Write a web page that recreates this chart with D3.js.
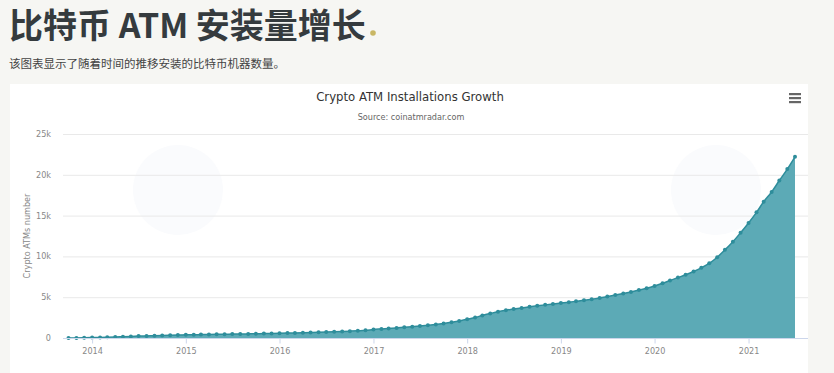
<!DOCTYPE html>
<meta charset="utf-8">
<script src="https://d3js.org/d3.v7.min.js"></script>
<style>
  body { margin: 0; background: #f6f6f3; font-family: "Noto Sans CJK SC", "Noto Sans", sans-serif; overflow: hidden; }
</style>
<body>
<div id="visual"></div>
<script>
// monthly cumulative installs, Oct 2013 .. Jul 2021
var startMonth = "2013-10";
var atmCounts = [
  5, 15, 30,
  50, 70, 95, 125, 160, 195, 230, 260, 290, 320, 345, 365,
  385, 400, 415, 430, 445, 460, 475, 490, 505, 520, 540, 560,
  580, 600, 620, 645, 670, 700, 730, 765, 800, 840, 885, 935,
  1050, 1110, 1170, 1240, 1310, 1390, 1470, 1560, 1660, 1780, 1920, 2080,
  2300, 2520, 2760, 3000, 3220, 3400, 3550, 3690, 3820, 3940, 4060, 4170,
  4280, 4390, 4500, 4620, 4760, 4910, 5080, 5260, 5450, 5650, 5870, 6100,
  6380, 6700, 7050, 7400, 7750, 8150, 8600, 9150, 9900, 10800, 11800, 12900,
  14100, 15400, 16700, 17900, 19300, 20700, 22200
];
var yTicks = [0, 5000, 10000, 15000, 20000, 25000];
var yTickLabels = ["0", "5k", "10k", "15k", "20k", "25k"];
var xTickYears = [2014, 2015, 2016, 2017, 2018, 2019, 2020, 2021];

var t0 = d3.timeParse("%Y-%m")(startMonth);
var data = atmCounts.map(function(v, i) { return { date: d3.timeMonth.offset(t0, i), value: v }; });

var W = 834, H = 373;
var svg = d3.select("#visual").append("svg").attr("width", W).attr("height", H);

// page heading
svg.append("text").attr("x", 9).attr("y", 38)
  .attr("font-size", 34).attr("font-weight", 700).attr("fill", "#353b3e")
  .attr("font-family", "'Noto Sans CJK SC', sans-serif")
  .text("比特币 ATM 安装量增长");
svg.append("circle").attr("cx", 373).attr("cy", 33).attr("r", 2.8).attr("fill", "#c9b764");
svg.append("text").attr("x", 9).attr("y", 68)
  .attr("font-size", 11.5).attr("fill", "#444")
  .attr("font-family", "'Noto Sans CJK SC', sans-serif")
  .text("该图表显示了随着时间的推移安装的比特币机器数量。");

// chart panel
svg.append("rect").attr("x", 10).attr("y", 84).attr("width", 798).attr("height", 300).attr("fill", "#fff");

// faint watermark shapes
[[178, 190], [716, 190]].forEach(function(c) {
  svg.append("circle").attr("cx", c[0]).attr("cy", c[1]).attr("r", 45).attr("fill", "#fafbfd");
});

var narrow = "'Liberation Sans Narrow', 'DejaVu Sans Condensed', sans-serif";
svg.append("text").attr("x", 410).attr("y", 101).attr("text-anchor", "middle")
  .attr("font-size", 13).attr("fill", "#333").attr("font-family", narrow)
  .text("Crypto ATM Installations Growth");
svg.append("text").attr("x", 411).attr("y", 120).attr("text-anchor", "middle")
  .attr("font-size", 9).attr("fill", "#666").attr("font-family", narrow)
  .text("Source: coinatmradar.com");

// menu icon
[93, 97, 101].forEach(function(y) {
  svg.append("rect").attr("x", 789).attr("y", y).attr("width", 12).attr("height", 2.2).attr("fill", "#666");
});

var x = d3.scaleTime()
  .domain([data[0].date, data[data.length - 1].date])
  .range([68.5, 795]);
var y = d3.scaleLinear().domain([0, 25000]).range([338, 134]);

// grid
svg.append("g").selectAll("line").data(yTicks).join("line")
  .attr("x1", 63).attr("x2", 808)
  .attr("y1", function(d) { return y(d) + 0.5; }).attr("y2", function(d) { return y(d) + 0.5; })
  .attr("stroke", "#e9e9e9");
svg.append("g").selectAll("text").data(yTicks).join("text")
  .attr("x", 51).attr("y", function(d) { return y(d) + 3; })
  .attr("text-anchor", "end").attr("font-size", 9).attr("fill", "#888").attr("font-family", narrow)
  .text(function(d, i) { return yTickLabels[i]; });
svg.append("text").attr("transform", "translate(30,236) rotate(-90)")
  .attr("text-anchor", "middle").attr("font-size", 9).attr("fill", "#888").attr("font-family", narrow)
  .text("Crypto ATMs number");

// area + line + markers
svg.append("path").datum(data)
  .attr("fill", "#5caab6")
  .attr("d", d3.area().curve(d3.curveMonotoneX)
    .x(function(d) { return x(d.date); }).y0(y(0)).y1(function(d) { return y(d.value); }));
svg.append("path").datum(data)
  .attr("fill", "none").attr("stroke", "#2e8d9b").attr("stroke-width", 1.5)
  .attr("d", d3.line().curve(d3.curveMonotoneX)
    .x(function(d) { return x(d.date); }).y(function(d) { return y(d.value); }));
svg.append("g").selectAll("circle").data(data).join("circle")
  .attr("cx", function(d) { return x(d.date); }).attr("cy", function(d) { return y(d.value); })
  .attr("r", 2).attr("fill", "#2e8d9b");

// x axis
var xAxis = svg.append("g").attr("transform", "translate(0,338.5)")
  .call(d3.axisBottom(x)
    .tickValues(xTickYears.map(function(yr) { return new Date(yr, 0, 1); }))
    .tickSize(5).tickPadding(4).tickFormat(d3.timeFormat("%Y")));
xAxis.select(".domain").attr("stroke", "#ccd6eb").attr("d", "M63,0H808");
xAxis.selectAll(".tick line").attr("stroke", "#ccd6eb");
xAxis.selectAll(".tick text").attr("fill", "#888").attr("font-size", 9).attr("font-family", narrow);
</script>
</body>
